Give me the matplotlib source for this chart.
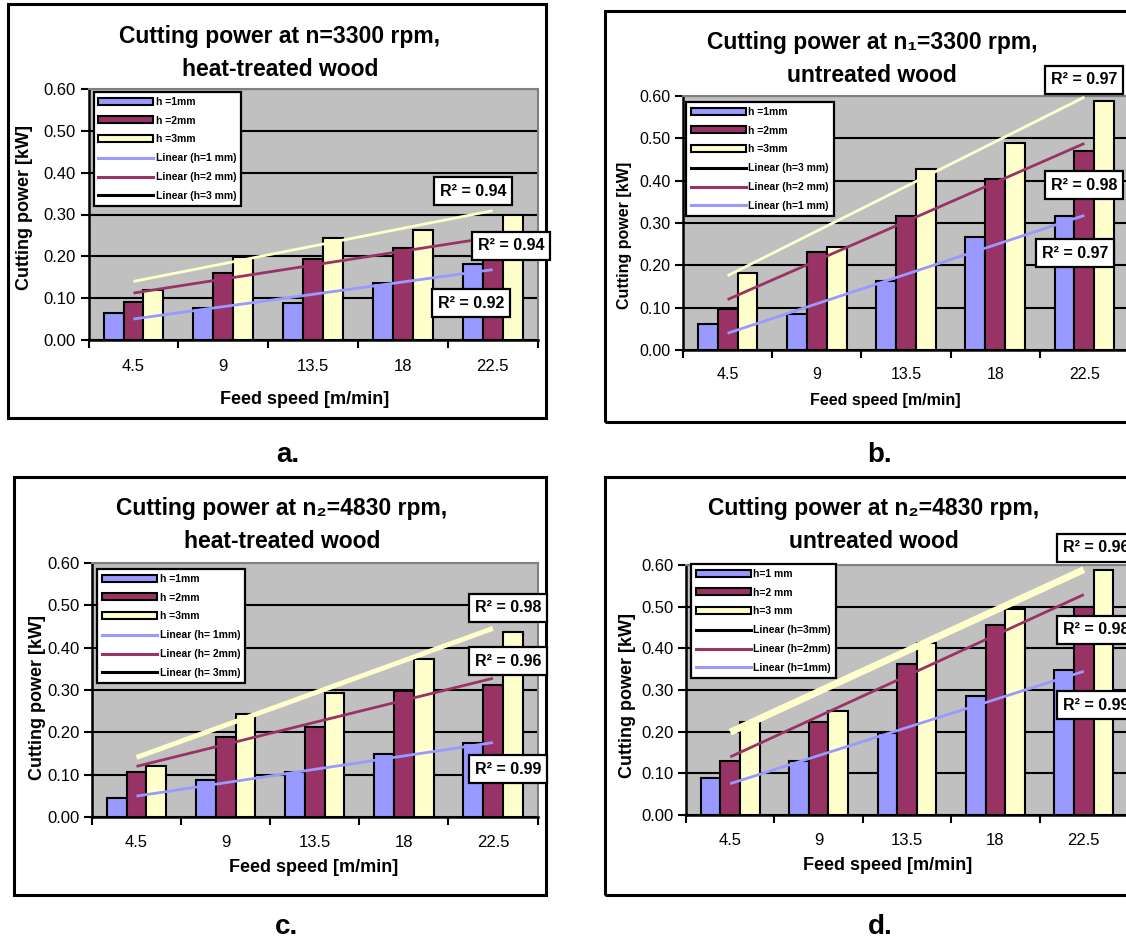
import numpy as np
import matplotlib
matplotlib.use("Agg")
import matplotlib.pyplot as plt
from matplotlib.patches import Rectangle, Patch
from matplotlib.lines import Line2D
from matplotlib.ticker import FormatStrFormatter

plt.rcParams['font.family'] = ['Liberation Sans', 'DejaVu Sans']

feed = ['4.5', '9', '13.5', '18', '22.5']

# a. n1=3300 rpm, heat-treated wood
a_h1 = [0.064, 0.076, 0.088, 0.137, 0.181]
a_h2 = [0.092, 0.161, 0.193, 0.219, 0.230]
a_h3 = [0.120, 0.198, 0.243, 0.263, 0.299]
a_r2 = ['0.94', '0.94', '0.92']

# b. n1=3300 rpm, untreated wood
b_h1 = [0.061, 0.084, 0.164, 0.268, 0.317]
b_h2 = [0.096, 0.231, 0.317, 0.403, 0.471]
b_h3 = [0.183, 0.244, 0.428, 0.489, 0.588]
b_r2 = ['0.97', '0.98', '0.97']

# c. n2=4830 rpm, heat-treated wood
c_h1 = [0.046, 0.088, 0.107, 0.148, 0.174]
c_h2 = [0.107, 0.188, 0.213, 0.298, 0.312]
c_h3 = [0.120, 0.243, 0.294, 0.373, 0.436]
c_r2 = ['0.98', '0.96', '0.99']

# d. n2=4830 rpm, untreated wood
d_h1 = [0.090, 0.129, 0.197, 0.285, 0.349]
d_h2 = [0.129, 0.223, 0.363, 0.457, 0.499]
d_h3 = [0.223, 0.250, 0.413, 0.495, 0.588]
d_r2 = ['0.96', '0.98', '0.99']

W, H = 1126, 940
C1, C2, C3 = '#9999FF', '#993366', '#FFFFCC'

fig = plt.figure(figsize=(W / 100, H / 100), dpi=100)
fig.patch.set_facecolor('white')


def fpt(x, y):
    return x / W, 1 - y / H


def panel(box, plot, title, title_xy, ylab_xy, xlab_xy, tick_pad, lab_fs, tick_fs,
          h1, h2, h3, leg_xy, leg_labels, leg_order, r2, r2_xy, h3_lw, letter, letter_xy):
    bx0, by0, bx1, by1 = box
    fig.add_artist(Rectangle(fpt(bx0, by1), (bx1 - bx0) / W, (by1 - by0) / H,
                             transform=fig.transFigure, fill=False,
                             edgecolor='black', linewidth=2.2, zorder=0.5))
    l, t, r, b = plot
    ax = fig.add_axes([l / W, 1 - b / H, (r - l) / W, (b - t) / H])
    ax.set_facecolor('#C0C0C0')
    x = np.arange(5)
    w = 1 / 4.5
    for i, (vals, c) in enumerate(zip([h1, h2, h3], [C1, C2, C3])):
        ax.bar(x + (i - 1) * w, vals, w, color=c, edgecolor='black',
               linewidth=1.5, zorder=2)
    # linear trend lines, as Excel draws them across the categories
    for vals, c, lw in zip([h1, h2, h3], [C1, C2, C3], [2, 2, h3_lw]):
        k, m = np.polyfit(x, vals, 1)
        ax.plot([0, 4], [m, 4 * k + m], color=c, lw=lw, zorder=3,
                solid_capstyle='butt')
    ax.set_xlim(-0.5, 4.5)
    ax.set_ylim(0, 0.6)
    ax.set_yticks(np.arange(0, 0.61, 0.1))
    ax.yaxis.set_major_formatter(FormatStrFormatter('%.2f'))
    ax.yaxis.grid(True, color='black', lw=1.5)
    ax.set_axisbelow(True)
    ax.set_xticks(np.arange(-0.5, 4.6, 1))
    ax.set_xticklabels([])
    ax.set_xticks(x, minor=True)
    ax.set_xticklabels(feed, minor=True)
    ax.tick_params(axis='x', which='major', direction='out', length=6, width=1.5)
    ax.tick_params(axis='x', which='minor', length=0, pad=tick_pad, labelsize=tick_fs)
    ax.tick_params(axis='y', direction='out', length=6, width=1.5,
                   labelsize=tick_fs, pad=3)
    for s in ['left', 'bottom']:
        ax.spines[s].set_color('black')
        ax.spines[s].set_linewidth(1.8)
    for s in ['top', 'right']:
        ax.spines[s].set_color('#808080')
        ax.spines[s].set_linewidth(1.5)

    handles = [Patch(facecolor=C1, edgecolor='black', linewidth=1.5),
               Patch(facecolor=C2, edgecolor='black', linewidth=1.5),
               Patch(facecolor=C3, edgecolor='black', linewidth=1.5)]
    line_cols = {1: C1, 2: C2, 3: 'black'}
    for n in leg_order:
        handles.append(Line2D([], [], color=line_cols[n], lw=2.2))
    leg = ax.legend(handles, leg_labels, loc='upper left',
                    bbox_to_anchor=fpt(*leg_xy), bbox_transform=fig.transFigure,
                    prop={'size': 7.5, 'weight': 'bold'}, frameon=True,
                    fancybox=False, edgecolor='black', framealpha=1,
                    handlelength=5.3, handleheight=0.65, labelspacing=0.85,
                    handletextpad=0.25, borderpad=0.45, borderaxespad=0)
    leg.get_frame().set_linewidth(1.6)

    tx, ty = title_xy
    fig.text(*fpt(tx, ty), title[0], ha='center', va='center',
             fontsize=16.5, weight='bold')
    fig.text(*fpt(tx, ty + 32), title[1], ha='center', va='center',
             fontsize=16.5, weight='bold')
    fig.text(*fpt(*ylab_xy), 'Cutting power [kW]', rotation=90, ha='center',
             va='center', fontsize=lab_fs, weight='bold')
    fig.text(*fpt(*xlab_xy), 'Feed speed [m/min]', ha='center', va='center',
             fontsize=lab_fs, weight='bold')
    for val, (rx, ry) in zip(r2, r2_xy):
        fig.text(*fpt(rx, ry), 'R² = ' + val, ha='center', va='center',
                 fontsize=11.5, weight='bold', zorder=5,
                 bbox=dict(boxstyle='square,pad=0.38', facecolor='white',
                           edgecolor='black', linewidth=1.6))
    fig.text(*fpt(*letter_xy), letter, ha='center', va='center',
             fontsize=20, weight='bold')


panel((8, 4, 546, 418), (88.6, 89, 537.5, 340),
      ['Cutting power at n=3300 rpm,', 'heat-treated wood'], (280, 37),
      (25, 208), (305, 400), 14, 13, 12,
      a_h1, a_h2, a_h3, (93.6, 92),
      ['h =1mm', 'h =2mm', 'h =3mm', 'Linear (h=1 mm)', 'Linear (h=2 mm)',
       'Linear (h=3 mm)'], [1, 2, 3],
      a_r2, [(473, 191), (511, 246), (471, 303)], 2, 'a.', (288, 455))

panel((605, 11, 1160, 422), (683, 96, 1129, 350),
      ['Cutting power at n\u2081=3300 rpm,', 'untreated wood'], (872, 43),
      (624, 235), (885, 400), 12, 11.5, 11.5,
      b_h1, b_h2, b_h3, (686, 102),
      ['h =1mm', 'h =2mm', 'h =3mm', 'Linear (h=3 mm)', 'Linear (h=2 mm)',
       'Linear (h=1 mm)'], [3, 2, 1],
      b_r2, [(1084, 80), (1084, 185), (1075, 253)], 2, 'b.', (880, 455))

panel((14, 477, 546, 895), (92, 563, 537.5, 817),
      ['Cutting power at n\u2082=4830 rpm,', 'heat-treated wood'], (282, 509),
      (38, 697), (314, 868), 13, 13, 12,
      c_h1, c_h2, c_h3, (97, 569),
      ['h =1mm', 'h =2mm', 'h =3mm', 'Linear (h= 1mm)', 'Linear (h= 2mm)',
       'Linear (h= 3mm)'], [1, 2, 3],
      c_r2, [(508, 608), (508, 661), (508, 769)], 3.5, 'c.', (287, 927))

panel((605, 477, 1160, 895), (686, 565, 1128, 815),
      ['Cutting power at n\u2082=4830 rpm,', 'untreated wood'], (874, 509),
      (628, 696), (888, 866), 13, 13, 12,
      d_h1, d_h2, d_h3, (691, 564),
      ['h=1 mm', 'h=2 mm', 'h=3 mm', 'Linear (h=3mm)', 'Linear (h=2mm)',
       'Linear (h=1mm)'], [3, 2, 1],
      d_r2, [(1096, 548), (1096, 630), (1096, 705)], 5, 'd.', (880, 927))

fig.savefig('out.png', dpi=100, facecolor='white')
